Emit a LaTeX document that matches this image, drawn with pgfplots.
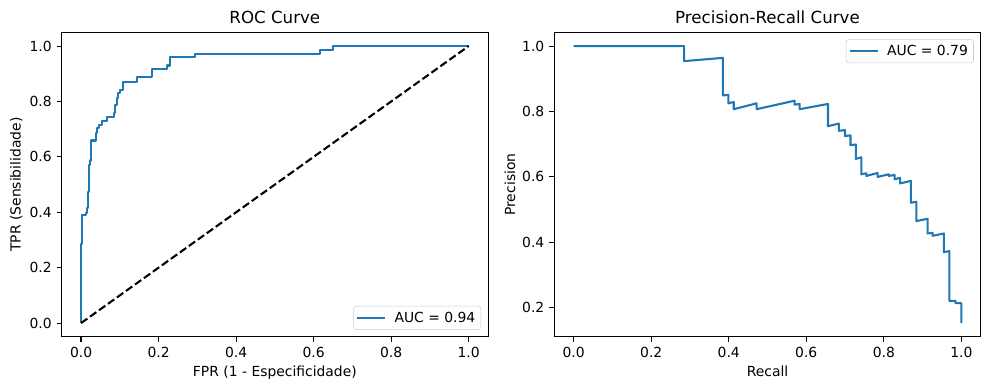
\documentclass[border=0pt]{standalone}
\usepackage{fontspec}
\setmainfont{DejaVu Sans}
\usepackage{pgfplots}
\usepackage{pgfplotstable}
\pgfplotsset{compat=1.18}
\definecolor{tabblue}{HTML}{1F77B4}

\pgfplotstableread{
x y
0 0
0 0.286
0.0017 0.286
0.0017 0.389
0.0129 0.389
0.0129 0.399
0.0164 0.399
0.0164 0.417
0.018 0.417
0.018 0.474
0.0198 0.474
0.0198 0.571
0.022 0.571
0.022 0.587
0.0258 0.587
0.0258 0.659
0.0387 0.659
0.0387 0.687
0.042 0.687
0.042 0.703
0.0473 0.703
0.0473 0.716
0.0542 0.716
0.0542 0.731
0.0671 0.731
0.0671 0.745
0.0852 0.745
0.0852 0.760
0.0878 0.760
0.0878 0.788
0.093 0.788
0.093 0.813
0.0956 0.813
0.0956 0.829
0.1007 0.829
0.1007 0.843
0.1076 0.843
0.1076 0.871
0.1446 0.871
0.1446 0.887
0.1833 0.887
0.1833 0.916
0.2229 0.916
0.2229 0.930
0.2298 0.930
0.2298 0.959
0.2943 0.959
0.2943 0.973
0.617 0.973
0.617 0.986
0.651 0.986
0.651 1
1 1
}\roctable

\pgfplotstableread{
x y
0 1.0
0.285 1.0
0.285 0.954
0.385 0.964
0.385 0.849
0.399 0.851
0.399 0.825
0.413 0.829
0.413 0.807
0.472 0.825
0.472 0.807
0.570 0.833
0.570 0.821
0.583 0.823
0.583 0.807
0.656 0.823
0.656 0.755
0.684 0.763
0.684 0.741
0.700 0.743
0.700 0.725
0.714 0.727
0.714 0.697
0.728 0.699
0.728 0.655
0.742 0.660
0.742 0.608
0.755 0.611
0.755 0.603
0.784 0.612
0.784 0.600
0.813 0.608
0.813 0.603
0.828 0.606
0.828 0.593
0.842 0.597
0.842 0.580
0.870 0.588
0.870 0.521
0.884 0.524
0.884 0.465
0.913 0.472
0.913 0.427
0.926 0.429
0.926 0.420
0.955 0.427
0.955 0.370
0.969 0.373
0.969 0.221
0.985 0.221
0.985 0.214
1.0 0.214
1.0 0.153
}\prtable

\pgfplotsset{
  mpl/.style={
    scale only axis,
    width=307pt, height=219.4pt,
    axis line style={line width=0.8pt},
    tick style={line width=0.8pt, black},
    tick align=outside,
    major tick length=3.5pt,
    tick pos=left,
    /pgf/number format/assume math mode=true,
    /pgf/number format/fixed,
    /pgf/number format/fixed zerofill,
    /pgf/number format/precision=1,
    ticklabel style={font=\fontsize{10}{12}\selectfont},
    xticklabel style={anchor=north, inner sep=0pt, yshift=-3.5pt},
    yticklabel style={anchor=east, inner sep=0pt, xshift=-3.5pt},
    every axis title shift=0pt,
    title style={font=\fontsize{12}{14.4}\selectfont, at={(axis description cs:0.5,1)}, anchor=base, inner sep=0pt, yshift=6pt},
    label style={font=\fontsize{10}{12}\selectfont, inner sep=0pt},
    xlabel style={at={(axis description cs:0.5,-0.1308)}, anchor=base},
    legend style={font=\fontsize{10}{12}\selectfont, draw=black!20, rounded corners=2pt, fill=white, fill opacity=0.8, text opacity=1, inner xsep=2pt, inner ysep=2pt, nodes={inner sep=2pt}, column sep=4pt},
    legend cell align=left,
    legend image code/.code={\draw[#1] (0pt,0pt) -- (20pt,0pt);},
    xmin=-0.05, xmax=1.05,
    xtick={0,0.2,0.4,0.6,0.8,1},
  }
}

\begin{document}
\begin{tikzpicture}
\useasboundingbox (0,0) rectangle (712.08pt,280.8pt);
\begin{axis}[mpl,
  at={(44.4pt,38.2pt)}, anchor=south west,
  ymin=-0.05, ymax=1.05,
  ytick={0,0.2,0.4,0.6,0.8,1},
  title={ROC Curve},
  xlabel={FPR (1 - Especificidade)},
  ylabel={TPR (Sensibilidade)},
  ylabel style={at={(axis description cs:-0.0961,0.5)}, anchor=base},
  legend style={at={(axis description cs:0.9837,0.0228)}, anchor=south east},
]
\addplot[tabblue, line width=1.5pt, line join=round] table[x=x,y=y] {\roctable};
\addlegendentry{AUC = 0.94}
\addplot[black, line width=1.5pt, dash pattern=on 5.55pt off 2.4pt, forget plot] coordinates {(0,0) (1,1)};
\end{axis}
\begin{axis}[mpl,
  at={(399.1pt,38.2pt)}, anchor=south west,
  ymin=0.1107, ymax=1.0424,
  ytick={0.2,0.4,0.6,0.8,1},
  title={Precision-Recall Curve},
  xlabel={Recall},
  ylabel={Precision},
  ylabel style={at={(axis description cs:-0.0922,0.5)}, anchor=base},
  legend style={at={(axis description cs:0.9837,0.9772)}, anchor=north east},
]
\addplot[tabblue, line width=1.5pt, line join=round] table[x=x,y=y] {\prtable};
\addlegendentry{AUC = 0.79}
\end{axis}
\end{tikzpicture}
\end{document}
